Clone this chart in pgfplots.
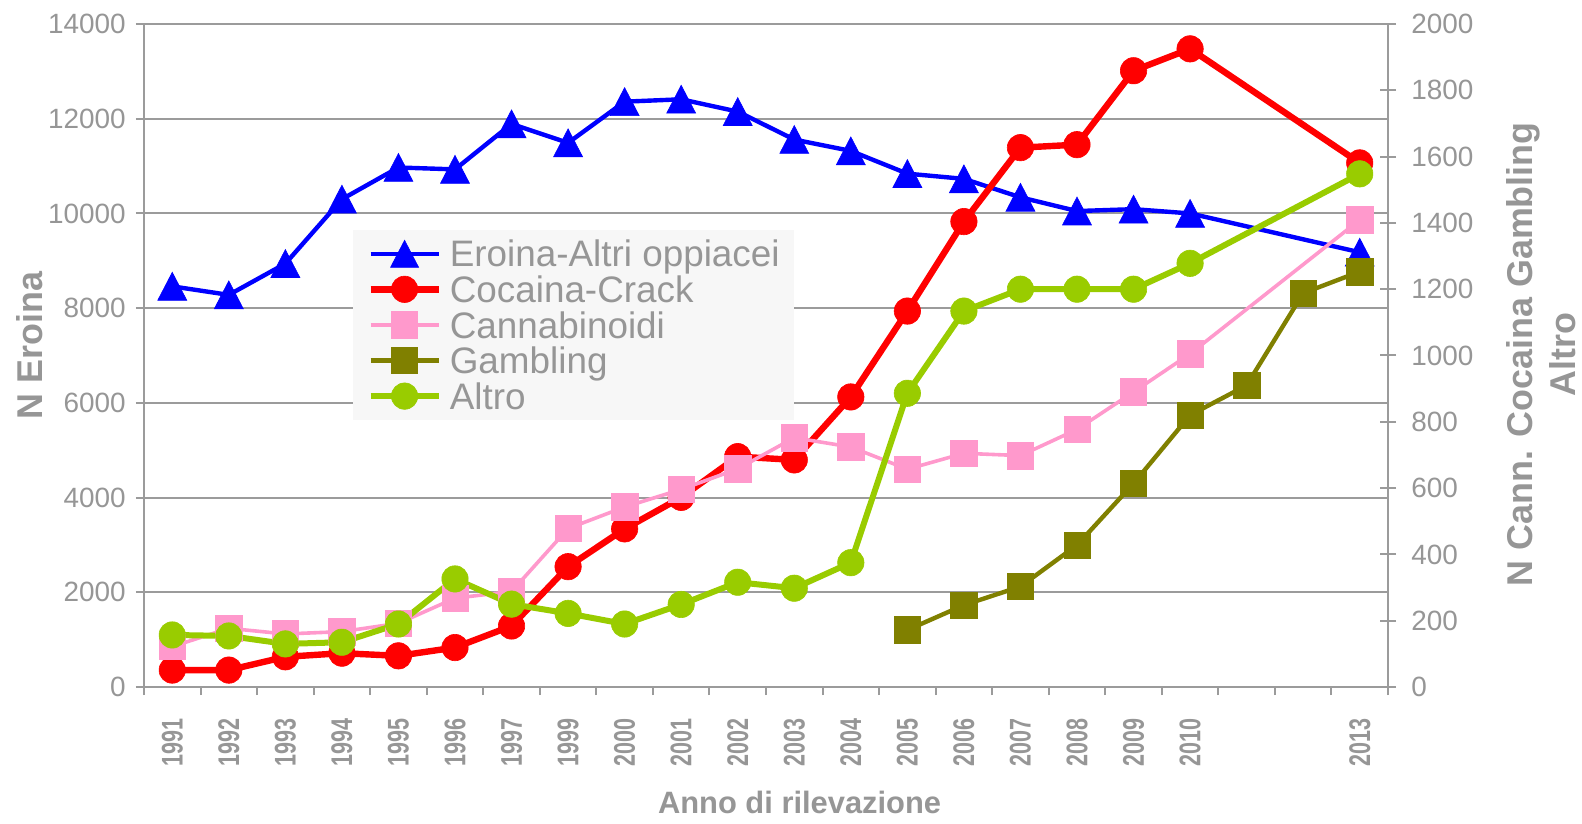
\documentclass[border=0pt]{standalone}
\usepackage{fontspec}
\setmainfont{Liberation Sans}
\usepackage{graphicx}
\usepackage{pgfplots}
\pgfplotsset{compat=1.18}

\definecolor{txtgray}{RGB}{150,150,150}
\definecolor{axgray}{RGB}{155,155,155}
\definecolor{heroin}{RGB}{0,0,255}
\definecolor{cocaine}{RGB}{255,0,0}
\definecolor{cannab}{RGB}{255,153,204}
\definecolor{gambl}{RGB}{128,128,0}
\definecolor{altro}{RGB}{153,204,0}
\definecolor{legbg}{RGB}{247,247,247}

\newcommand\yr[1]{\scalebox{0.72}[1]{#1}}

\pgfplotsset{
  base/.style={
    scale only axis, width=622bp, height=331.5bp,
    xmin=-0.5, xmax=21.5,
    scaled y ticks=false,
    /pgf/number format/assume math mode=true,
    /pgf/number format/1000 sep={},
    tick label style={font=\fontsize{14}{14}\selectfont, text=txtgray},
    label style={font=\bfseries\fontsize{18}{21.5}\selectfont, text=txtgray},
    axis line style={axgray, line width=1bp},
    tick style={axgray, line width=1bp},
  },
}

\begin{document}
\begin{tikzpicture}
\useasboundingbox (-72bp,-68.5bp) rectangle (719bp,343.5bp);

% left axis: heroin
\begin{axis}[base,
  ymin=0, ymax=14000, ytick distance=2000,
  ymajorgrids, grid style={axgray, line width=1bp},
  xtick={-0.5,0.5,...,21.5}, xticklabels={},
  extra x ticks={0,...,21},
  extra x tick labels={\yr{1991},\yr{1992},\yr{1993},\yr{1994},\yr{1995},\yr{1996},\yr{1997},\yr{1999},\yr{2000},\yr{2001},\yr{2002},\yr{2003},\yr{2004},\yr{2005},\yr{2006},\yr{2007},\yr{2008},\yr{2009},\yr{2010},{},{},\yr{2013}},
  extra x tick style={major tick length=0pt, grid=none},
  xtick pos=bottom, ytick pos=left,
  tick align=outside, major tick length=4bp,
  xticklabel style={rotate=90, anchor=east, inner sep=0pt, font=\bfseries\fontsize{15}{15}\selectfont},
  xticklabel shift=15.5bp,
  yticklabel style={anchor=east, inner sep=0pt},
  yticklabel shift=5bp,
  xlabel={Anno di rilevazione}, ylabel={N Eroina},
  xlabel style={at={(axis description cs:0.527,-0.174)}, anchor=center, font=\bfseries\fontsize{15.5}{15.5}\selectfont},
  ylabel style={at={(axis description cs:-0.092,0.515)}, anchor=center},
]
\addplot[heroin, line width=2.2bp, mark=triangle*, mark size=9.3bp,
  mark options={xscale=0.9, yshift=-2.3bp, line width=0.3bp}] coordinates {
  (0,8460) (1,8280) (2,8940) (3,10300) (4,10970) (5,10930) (6,11890)
  (7,11490) (8,12360) (9,12410) (10,12150) (11,11560) (12,11320)
  (13,10840) (14,10730) (15,10340) (16,10050) (17,10090) (18,10000)
  (21,9180)
};
\end{axis}

% right axis: other substances
\begin{axis}[base,
  ymin=0, ymax=2000, ytick distance=200,
  axis x line=none, axis y line*=right, axis line style={-},
  tick align=center, major tick length=8bp,
  yticklabel style={anchor=west, inner sep=0pt},
  yticklabel shift=7.5bp,
  ylabel={N Cann. Cocaina Gambling\\Altro},
  ylabel style={align=center, at={(axis description cs:1.1234,0.502)}, anchor=center},
  legend style={at={(rel axis cs:0.168,0.69)}, anchor=north west,
    fill=legbg, draw=none, inner xsep=7bp, inner ysep=3bp,
    font=\fontsize{18.5}{18.5}\selectfont, text=txtgray,
    row sep=0pt, column sep=4bp,
    nodes={inner sep=0pt, text height=15.5bp, text depth=2.3bp}},
  legend cell align=left,
  legend image code/.code={\draw[mark repeat=2,mark phase=2] plot coordinates {(0bp,0bp)(17bp,0bp)(34bp,0bp)};},
]
\addlegendimage{heroin, line width=2.2bp, mark=triangle*, mark size=9bp,
  mark options={xscale=0.9, yshift=-2.3bp, line width=0.3bp}}
\addlegendentry{Eroina-Altri oppiacei}

\addplot[cocaine, line width=3.2bp, mark=*, mark size=6.6bp,
  mark options={line width=0.3bp}] coordinates {
  (0,51) (1,51) (2,91) (3,102) (4,94) (5,119) (6,184) (7,363) (8,477)
  (9,572) (10,695) (11,685) (12,875) (13,1134) (14,1404) (15,1627)
  (16,1636) (17,1859) (18,1925) (21,1581)
};
\addlegendentry{Cocaina-Crack}

\addplot[cannab, line width=1.8bp, mark=square*, mark size=6.6bp,
  mark options={line width=0.3bp}] coordinates {
  (0,122) (1,177) (2,160) (3,167) (4,192) (5,268) (6,288) (7,478) (8,543)
  (9,596) (10,658) (11,752) (12,724) (13,657) (14,705) (15,698) (16,777)
  (17,890) (18,1005) (21,1409)
};
\addlegendentry{Cannabinoidi}

\addplot[gambl, line width=2.2bp, mark=square*, mark size=6.6bp,
  mark options={line width=0.3bp}] coordinates {
  (13,172) (14,247) (15,303) (16,428) (17,614) (18,820) (19,910)
  (20,1188) (21,1253)
};
\addlegendentry{Gambling}

\addplot[altro, line width=3bp, mark=*, mark size=6.6bp,
  mark options={line width=0.3bp}] coordinates {
  (0,157) (1,154) (2,130) (3,135) (4,190) (5,326) (6,250) (7,222) (8,190)
  (9,249) (10,316) (11,298) (12,375) (13,886) (14,1134) (15,1200)
  (16,1200) (17,1200) (18,1278) (21,1548)
};
\addlegendentry{Altro}
\end{axis}
\end{tikzpicture}
\end{document}
